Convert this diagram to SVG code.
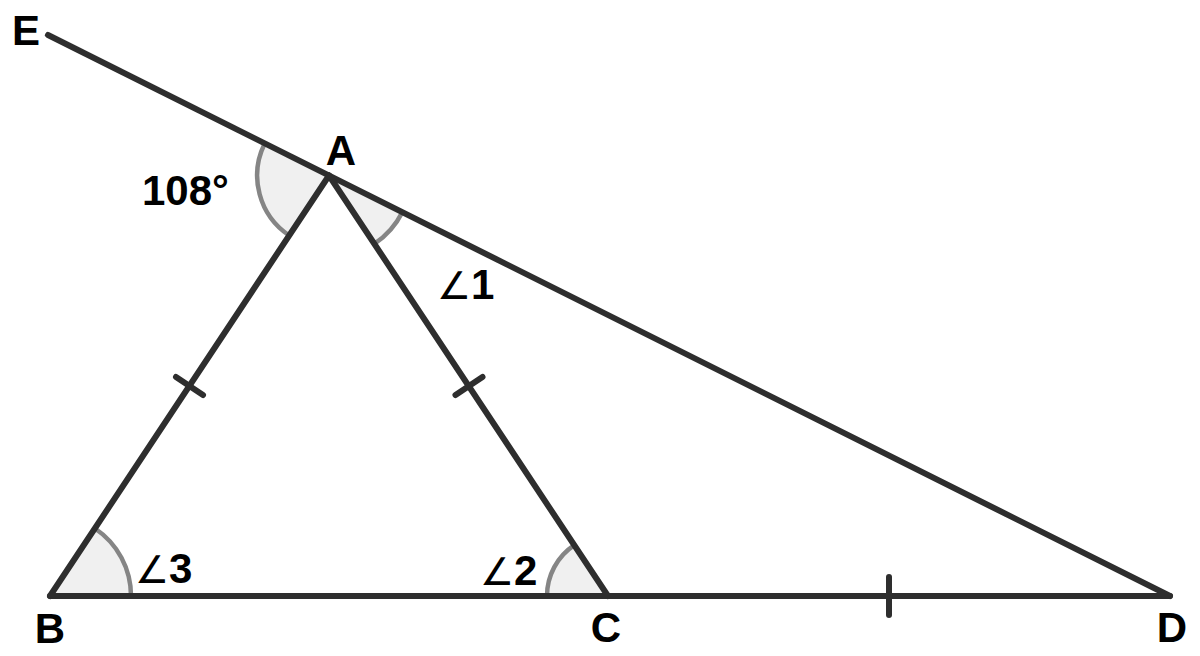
<svg xmlns="http://www.w3.org/2000/svg" width="1200" height="656" viewBox="0 0 1200 656">
<style>
.ln{stroke:#2e2e2e;stroke-width:6;stroke-linecap:round;fill:none}
.tk{stroke:#2e2e2e;stroke-width:6;stroke-linecap:round}
.sec{fill:#f0f0f0;stroke:none}
.arc{fill:none;stroke:#858585;stroke-width:4.5}
.lbl{font-family:"Liberation Sans",Arial,sans-serif;font-weight:bold;font-size:42px;fill:#000}
.ang{font-family:"DejaVu Sans","Liberation Sans",sans-serif;font-weight:normal;font-size:38px}
</style>
<rect width="1200" height="656" fill="#fff"/>
<g id="angle-marks">
<path class="sec" d="M329,175.5 L264.6,143.8 A72,72 0 0 0 289.2,235.5 Z"/>
<path class="arc" d="M264.6,143.8 A72,72 0 0 0 289.2,235.5"/>
<path class="sec" d="M329,175.5 L402.3,212.2 A82,82 0 0 1 374.3,243.8 Z"/>
<path class="arc" d="M402.3,212.2 A82,82 0 0 1 374.3,243.8"/>
<path class="sec" d="M50,596 L95,528.5 A81,81 0 0 1 131,596 Z"/>
<path class="arc" d="M95,528.5 A81,81 0 0 1 131,596"/>
<path class="sec" d="M608,596 L547,596 A61,61 0 0 1 574.3,545.2 Z"/>
<path class="arc" d="M547,596 A61,61 0 0 1 574.3,545.2"/>
</g>
<g id="connectors">
<line class="ln" x1="48" y1="35" x2="1170" y2="596"/>
<line class="ln" x1="329" y1="175.5" x2="50" y2="596"/>
<line class="ln" x1="329" y1="175.5" x2="608" y2="596"/>
<line class="ln" x1="50" y1="596" x2="1170" y2="596"/>
<line class="tk" x1="176" y1="377" x2="203" y2="395"/>
<line class="tk" x1="482.5" y1="377" x2="455.5" y2="395"/>
<line class="tk" x1="889" y1="577" x2="889" y2="615"/>
</g>
<g id="node-E"><text class="lbl" x="26" y="45" text-anchor="middle">E</text></g>
<g id="node-A"><text class="lbl" x="341" y="165" text-anchor="middle">A</text></g>
<g id="node-B"><text class="lbl" x="50" y="643" text-anchor="middle">B</text></g>
<g id="node-C"><text class="lbl" x="606" y="642" text-anchor="middle">C</text></g>
<g id="node-D"><text class="lbl" x="1172" y="642" text-anchor="middle">D</text></g>
<g id="label-108"><text class="lbl" x="142" y="205">108°</text></g>
<g id="label-angle1"><text class="lbl" x="437" y="299"><tspan class="ang">∠</tspan>1</text></g>
<g id="label-angle3"><text class="lbl" x="135" y="583"><tspan class="ang">∠</tspan>3</text></g>
<g id="label-angle2"><text class="lbl" x="480" y="585"><tspan class="ang">∠</tspan>2</text></g>
</svg>
